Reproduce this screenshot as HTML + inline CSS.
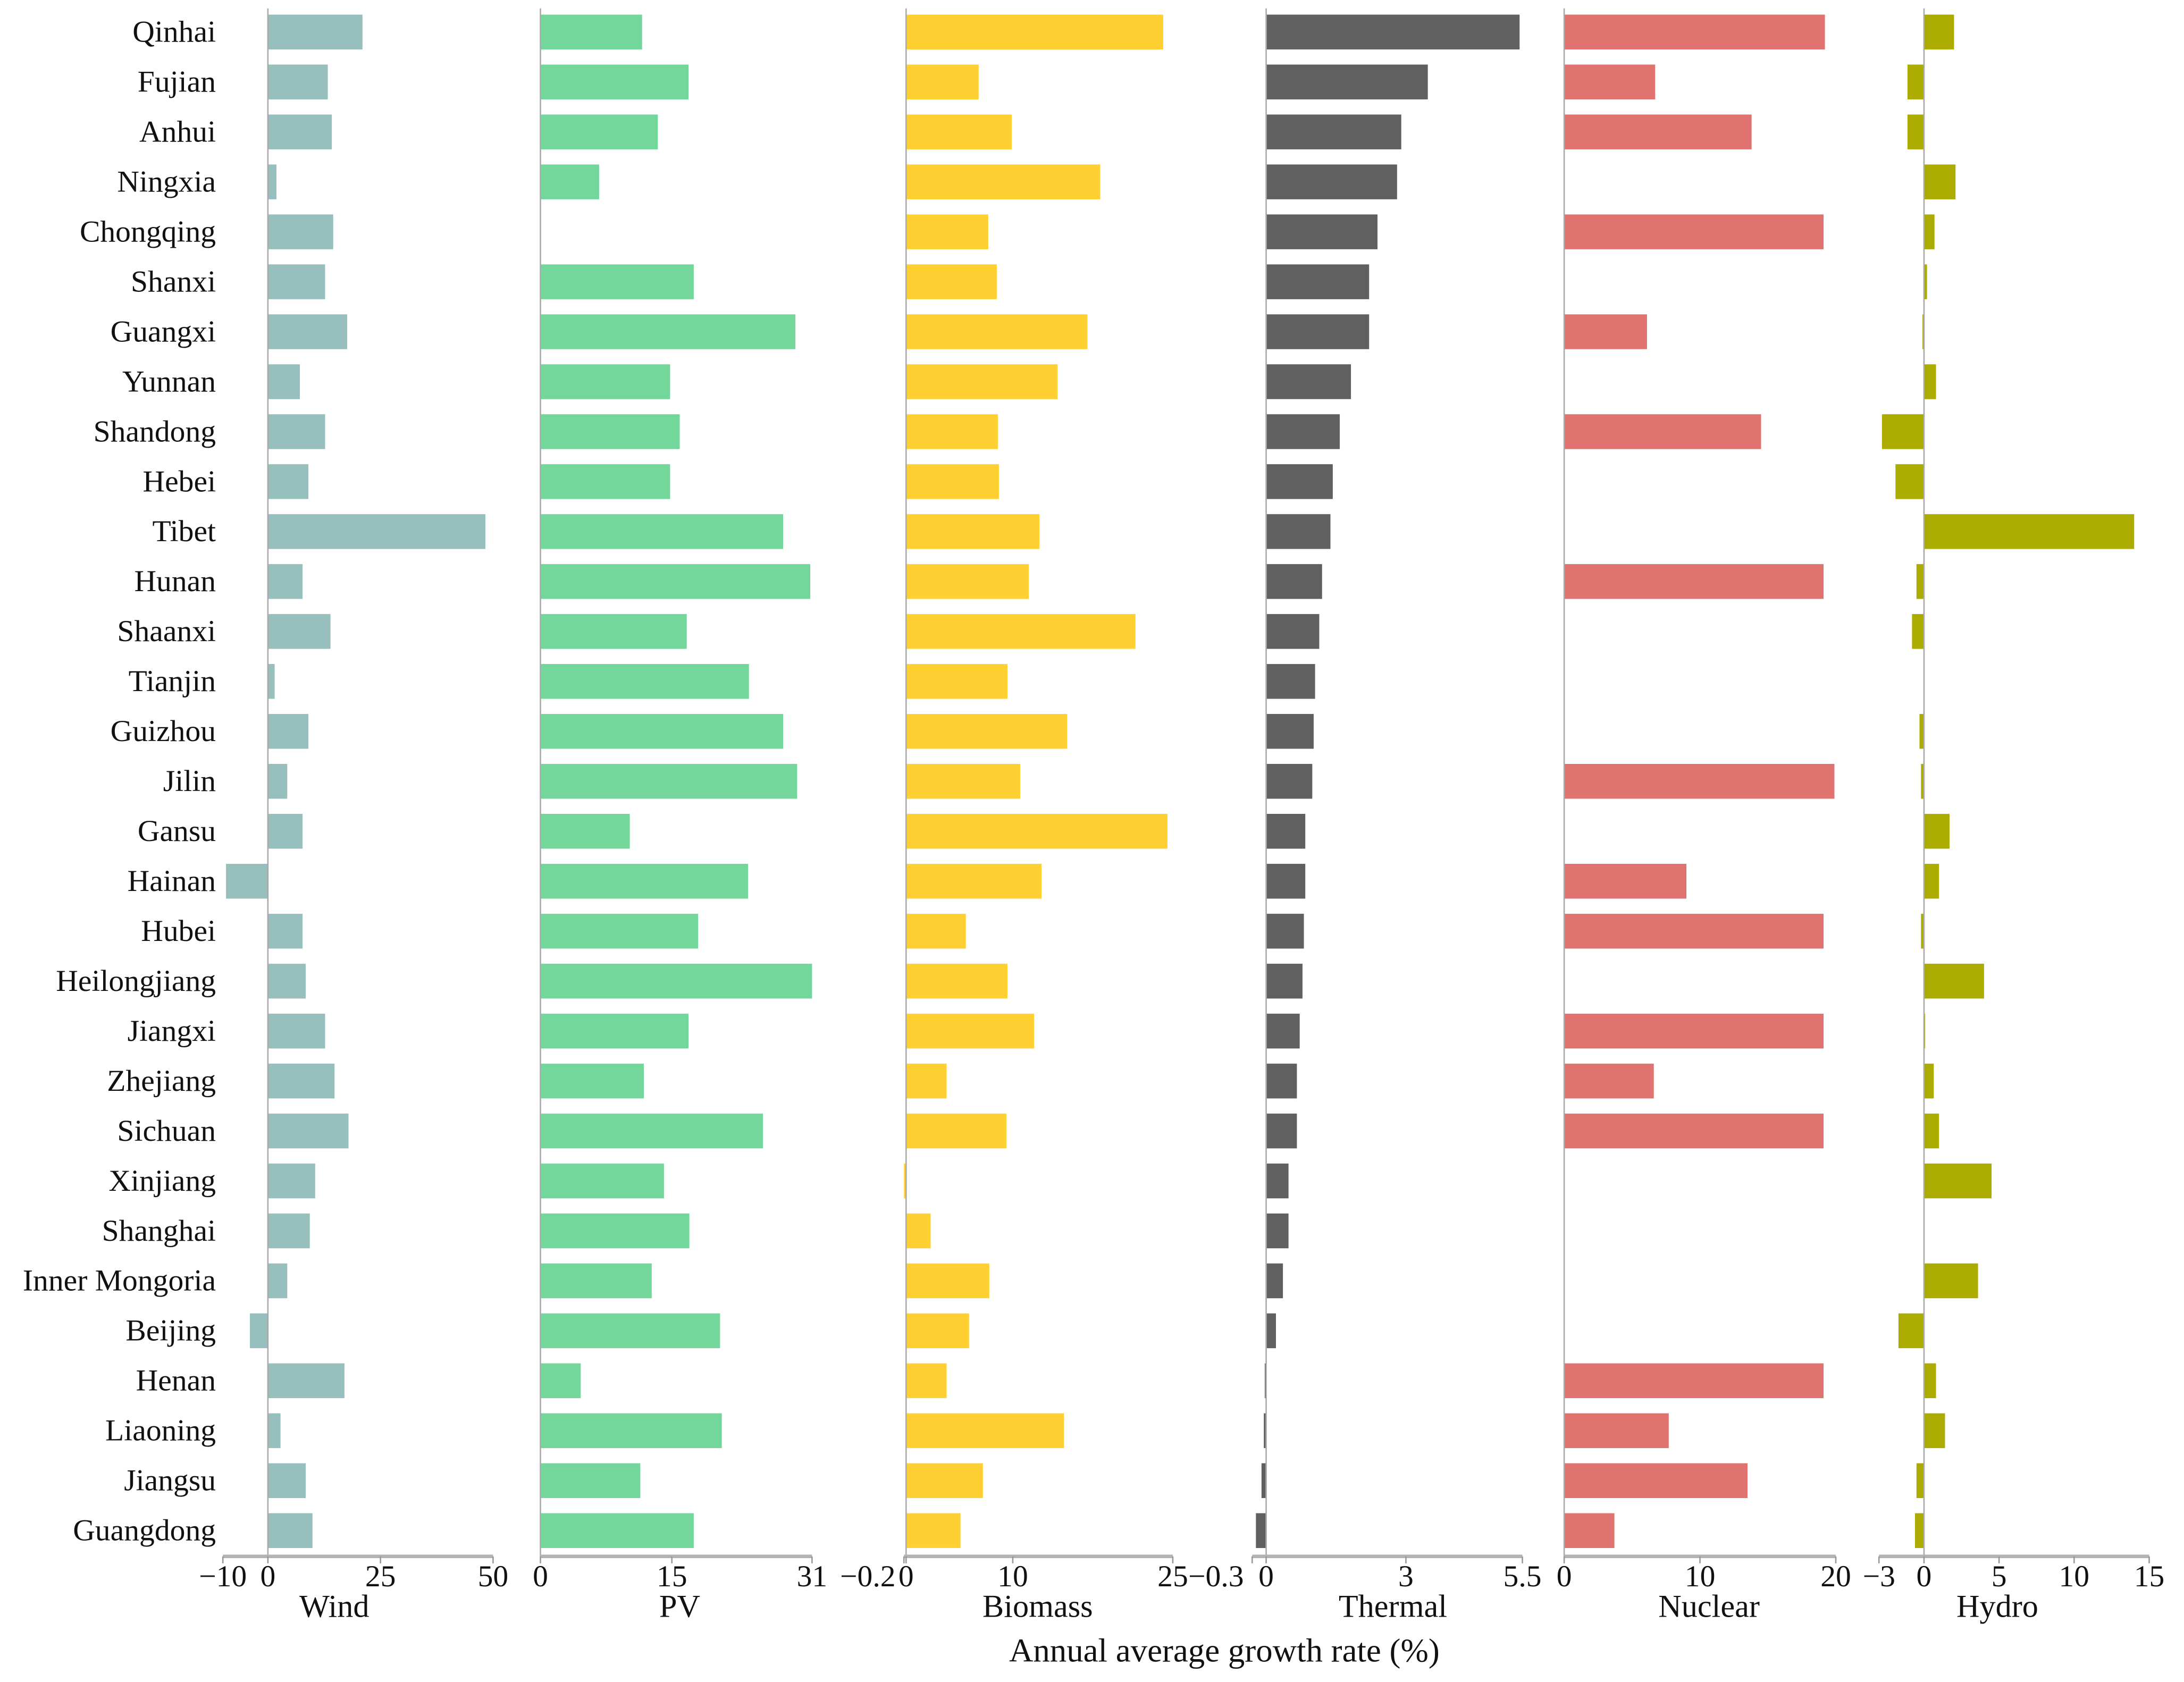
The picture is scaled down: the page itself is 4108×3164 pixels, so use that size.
<!DOCTYPE html>
<html><head><meta charset="utf-8">
<style>
html,body{margin:0;padding:0;background:#fff;}
svg{display:block;}
text{font-family:"Liberation Serif",serif;fill:#111;}
</style></head>
<body>
<svg id="chart" width="4108" height="3164" viewBox="0 0 1568 1207.7" preserveAspectRatio="none" xmlns="http://www.w3.org/2000/svg">
<text x="879" y="1193" font-size="24" text-anchor="middle">Annual average growth rate (%)</text>
</svg>
<script>
const provinces=["Qinhai","Fujian","Anhui","Ningxia","Chongqing","Shanxi","Guangxi","Yunnan","Shandong","Hebei","Tibet","Hunan","Shaanxi","Tianjin","Guizhou","Jilin","Gansu","Hainan","Hubei","Heilongjiang","Jiangxi","Zhejiang","Sichuan","Xinjiang","Shanghai","Inner Mongoria","Beijing","Henan","Liaoning","Jiangsu","Guangdong"];
const windValues=[21,13.3,14.2,1.9,14.5,12.7,17.6,7.1,12.7,9,48.3,7.7,13.9,1.5,9,4.3,7.7,-9.3,7.7,8.4,12.7,14.8,17.9,10.5,9.3,4.3,-4,17,2.8,8.4,9.9];
const pvValues=[11.6,16.9,13.4,6.7,0,17.5,29.1,14.8,15.9,14.8,27.7,30.8,16.7,23.8,27.7,29.3,10.2,23.7,18,31,16.9,11.8,25.4,14.1,17,12.7,20.5,4.6,20.7,11.4,17.5];
const biomassValues=[24.1,6.8,9.9,18.2,7.7,8.5,17,14.2,8.6,8.7,12.5,11.5,21.5,9.5,15.1,10.7,24.5,12.7,5.6,9.5,12,3.8,9.4,-0.2,2.3,7.8,5.9,3.8,14.8,7.2,5.1];
const thermalValues=[5.44,3.47,2.9,2.81,2.39,2.21,2.21,1.82,1.58,1.43,1.38,1.2,1.14,1.05,1.02,0.99,0.84,0.84,0.81,0.78,0.72,0.66,0.66,0.48,0.48,0.36,0.21,-0.03,-0.05,-0.1,-0.22];
const nuclearValues=[19.2,6.7,13.8,0,19.1,0,6.1,0,14.5,0,0,19.1,0,0,0,19.9,0,9,19.1,0,19.1,6.6,19.1,0,0,0,0,19.1,7.7,13.5,3.7];
const hydroValues=[2.0,-1.1,-1.1,2.1,0.7,0.2,-0.1,0.8,-2.8,-1.9,14,-0.5,-0.8,0,-0.3,-0.2,1.7,1.0,-0.2,4.0,0.05,0.65,1.0,4.5,0,3.6,-1.7,0.8,1.4,-0.5,-0.6];
const panelNames=["Wind","PV","Biomass","Thermal","Nuclear","Hydro"];
const domains=[[-10,50],[0,31],[-0.2,25],[-0.3,5.5],[0,20],[-3,15]];
const tickLabels=[["−10","0","25","50"],["0","15","31"],["−0.2","0","10","25"],["−0.3","0","3","5.5"],["0","10","20"],["−3","0","5","10","15"]];
const tickValues=[[-10,0,25,50],[0,15,31],[-0.2,0,10,25],[-0.3,0,3,5.5],[0,10,20],[-3,0,5,10,15]];
const seriesAll=[windValues,pvValues,biomassValues,thermalValues,nuclearValues,hydroValues];
const colors=["#96bfbd","#73d69b","#ffd032","#606060","#e07370","#abab00"];
const px=[[160,354],[388,583],[649,842],[899,1093],[1123,1318],[1349,1543]];
const titleX=[240,488,745,1000,1227,1434];
const NS="http://www.w3.org/2000/svg";
const svg=document.getElementById('chart');
const rowY=i=>23+i*(1099-23)/30;
const barH=25, axisY=1117.5;
function mk(tag,attrs){const e=document.createElementNS(NS,tag);for(const k in attrs)e.setAttribute(k,attrs[k]);svg.appendChild(e);return e;}
provinces.forEach((p,i)=>{
  const t=mk('text',{x:155,y:rowY(i)+7,'font-size':22,'text-anchor':'end'});
  t.textContent=p;
  
  
});
panelNames.forEach((name,k)=>{
  const [d0,d1]=domains[k],[x0,x1]=px[k];
  const sx=v=>x0+(v-d0)/(d1-d0)*(x1-x0);
  const z=sx(0);
  seriesAll[k].forEach((v,i)=>{
    if(v===0)return;
    const a=sx(v);
    const r=mk('rect',{x:Math.min(a,z),y:rowY(i)-barH/2,width:Math.max(Math.abs(a-z),0.8),height:barH,fill:colors[k]});
    
    
  });
  const zl=mk('line',{x1:z,x2:z,y1:6,y2:axisY,stroke:'#aaa','stroke-width':1});
  
  
  const ax=mk('line',{x1:x0,x2:x1,y1:axisY,y2:axisY,stroke:'#b3b3b3','stroke-width':2.5});
  
  
  tickValues[k].forEach((tv,j)=>{
    const tx=sx(tv);
    const tl=mk('line',{x1:tx,x2:tx,y1:axisY,y2:axisY+5,stroke:'#999','stroke-width':1});
    
    
    let anchor='middle', lx=tx;
    if(tv<0&&Math.abs(sx(0)-tx)<15){anchor='end';lx=tx-6;}
    const tt=mk('text',{x:lx,y:1139,'font-size':22,'text-anchor':anchor});
    tt.textContent=tickLabels[k][j];
    
    
  });
  const title=mk('text',{x:titleX[k],y:1161,'font-size':23,'text-anchor':'middle'});
  title.textContent=name;
  
  
});
</script>
</body></html>
